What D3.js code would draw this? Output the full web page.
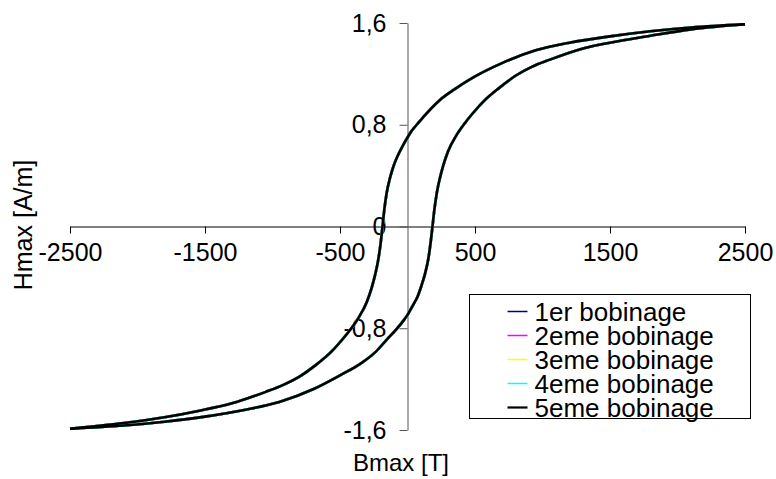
<!DOCTYPE html>
<html>
<head>
<meta charset="utf-8">
<script src="https://cdn.jsdelivr.net/npm/d3@7"></script>
<style>
  body { margin: 0; background: #fff; }
  text { font-family: Arial, "Liberation Sans", sans-serif; fill: #000; }
</style>
</head>
<body>
<div id="chart"></div>
<script>
// series names and colours (Excel default line palette)
const seriesNames = ["1er bobinage", "2eme bobinage", "3eme bobinage", "4eme bobinage", "5eme bobinage"];
const seriesColors = ["#000080", "#ff00ff", "#ffff00", "#00ffff", "#000000"];

// descending branch (from +2500 down to -2500)
const descX = [2500, 2100, 1800, 1500, 1200, 950, 700, 500, 350, 240, 150, 80, 30, 0, -40, -75, -105, -130, -155, -172, -185, -200, -218, -240, -265, -300, -364, -430, -500, -560, -680, -800, -920, -1050, -1300, -1550, -1800, -2100, -2500];
const descY = [1.59, 1.565, 1.535, 1.495, 1.445, 1.385, 1.285, 1.18, 1.08, 0.995, 0.90, 0.815, 0.75, 0.70, 0.625, 0.55, 0.47, 0.38, 0.26, 0.13, 0.0, -0.14, -0.27, -0.38, -0.48, -0.59, -0.72, -0.82, -0.91, -0.98, -1.09, -1.18, -1.245, -1.30, -1.39, -1.45, -1.50, -1.545, -1.59];

// ascending branch (from -2500 up to +2500)
const ascX = [-2500, -2100, -1800, -1500, -1200, -950, -700, -500, -350, -240, -150, -80, -30, 0, 40, 75, 105, 130, 155, 172, 185, 200, 218, 240, 265, 300, 364, 430, 500, 560, 680, 800, 920, 1050, 1300, 1550, 1800, 2100, 2500];
const ascY = [-1.59, -1.565, -1.535, -1.495, -1.44, -1.38, -1.28, -1.17, -1.08, -0.99, -0.885, -0.805, -0.74, -0.695, -0.62, -0.55, -0.46, -0.37, -0.25, -0.12, 0.0, 0.14, 0.27, 0.38, 0.48, 0.59, 0.72, 0.82, 0.91, 0.98, 1.09, 1.185, 1.255, 1.31, 1.40, 1.455, 1.50, 1.55, 1.59];

const xTicks = [-2500, -1500, -500, 500, 1500, 2500];
const yTicks = [-1.6, -0.8, 0, 0.8, 1.6];

const width = 776, height = 479;

const svg = d3.select("#chart")
  .append("svg")
  .attr("width", width)
  .attr("height", height);

const x = d3.scaleLinear().domain([-2500, 2500]).range([70, 745]);
const y = d3.scaleLinear().domain([-1.6, 1.6]).range([430, 23]);

// x axis through y = 0
const xAxis = svg.append("g")
  .attr("transform", `translate(0,${y(0)})`)
  .call(d3.axisBottom(x).tickValues(xTicks).tickSize(7).tickSizeOuter(0).tickPadding(10)
    .tickFormat(d => String(d)));
xAxis.select(".domain").attr("stroke", "#000");
xAxis.selectAll(".tick line").attr("stroke", "#000");
xAxis.selectAll("text").style("font-size", "25px").attr("fill", "#000");

// y axis through x = 0 (comma decimals, plain hyphen)
const yFmt = d => d === 0 ? "0" : String(d.toFixed(1)).replace(".", ",");
const yAxis = svg.append("g")
  .attr("transform", `translate(${x(0)},0)`)
  .call(d3.axisLeft(y).tickValues(yTicks).tickSize(8).tickSizeOuter(0).tickPadding(13)
    .tickFormat(yFmt));
yAxis.select(".domain").attr("stroke", "#555");
yAxis.selectAll(".tick line").attr("stroke", "#555");
yAxis.selectAll("text").style("font-size", "25px").attr("fill", "#000");

// axis titles
svg.append("text")
  .attr("transform", "translate(32,225) rotate(-90)")
  .attr("text-anchor", "middle")
  .style("font-size", "25px")
  .text("Hmax [A/m]");

svg.append("text")
  .attr("x", 401)
  .attr("y", 471)
  .attr("text-anchor", "middle")
  .style("font-size", "24px")
  .text("Bmax [T]");

// curves: each branch sorted by x so a monotone curve can be used
const desc = descX.map((v, i) => [v, descY[i]]).sort((a, b) => a[0] - b[0]);
const asc = ascX.map((v, i) => [v, ascY[i]]).sort((a, b) => a[0] - b[0]);

const line = d3.line()
  .x(d => x(d[0]))
  .y(d => y(d[1]))
  .curve(d3.curveMonotoneX);

seriesNames.forEach((name, i) => {
  const g = svg.append("g").attr("fill", "none")
    .attr("stroke", seriesColors[i])
    .attr("stroke-width", 2.6)
    .attr("stroke-linejoin", "round");
  g.append("path").attr("d", line(desc));
  g.append("path").attr("d", line(asc));
});

// Legend
const legendBox = svg.append("g").attr("transform", "translate(469.5,294.5)");
legendBox.append("rect")
  .attr("width", 281)
  .attr("height", 124)
  .attr("fill", "#fff")
  .attr("stroke", "#000");

const legend = legendBox.selectAll(".legend")
  .data(seriesNames)
  .enter().append("g")
  .attr("class", "legend")
  .attr("transform", (d, i) => `translate(0, ${17 + i * 24})`);

legend.append("line")
  .attr("x1", 38)
  .attr("x2", 58)
  .attr("stroke", (d, i) => seriesColors[i])
  .attr("stroke-width", (d, i) => i === 4 ? 2.2 : 1.5);

legend.append("text")
  .attr("x", 65)
  .attr("dy", ".35em")
  .style("font-size", "26px")
  .text(d => d);
</script>
</body>
</html>
